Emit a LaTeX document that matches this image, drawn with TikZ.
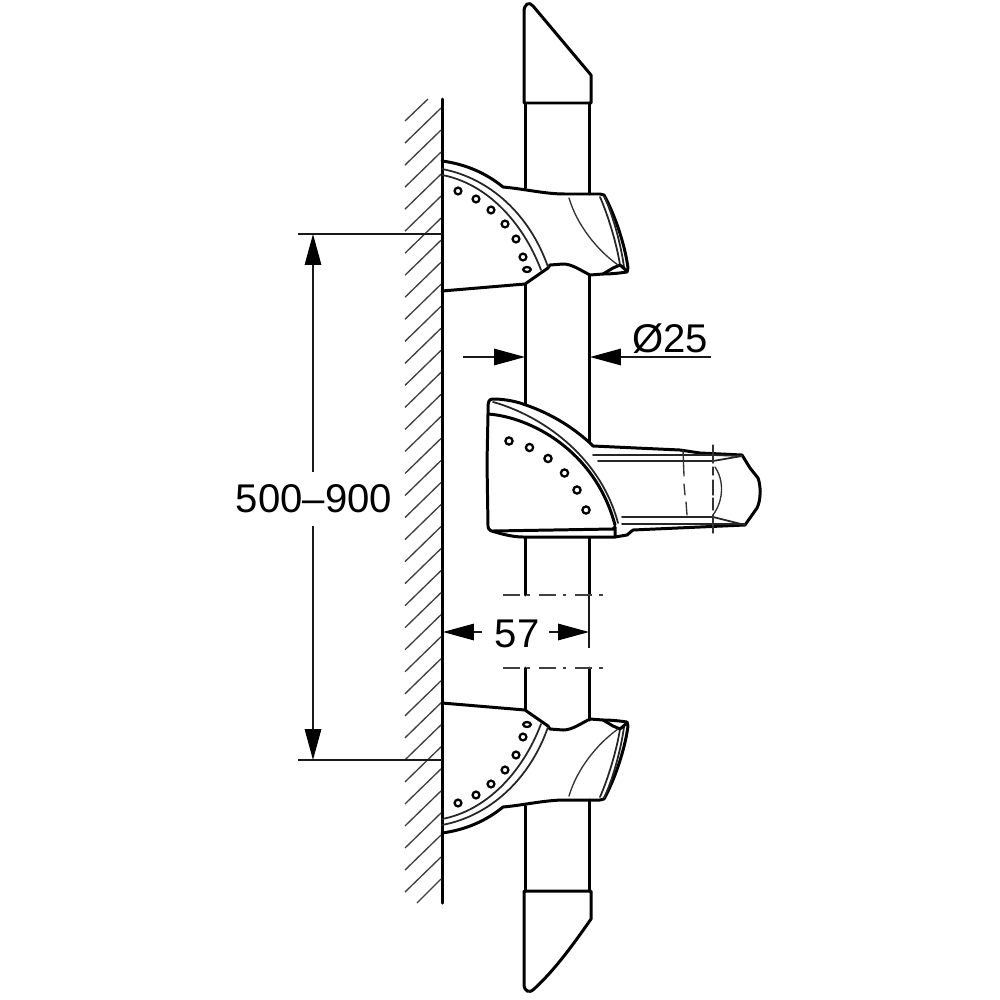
\documentclass[tikz,border=0pt]{standalone}
\usepackage{fontspec}
\setmainfont{Liberation Sans}
\usetikzlibrary{arrows.meta}
\tikzset{
  heavy/.style={line width=0.85pt,line join=round,line cap=round,black},
  medium/.style={line width=0.5pt,line join=round,line cap=round,black!85},
  fine/.style={line width=0.38pt,line cap=round,black!80},
  hatchline/.style={line width=0.38pt,black!75},
  dimline/.style={line width=0.38pt,black!90},
  dimtip/.style={dimline,-{Triangle[length=8.8pt,width=4.7pt,black]}},
  dimtext/.style={inner sep=0pt,font=\fontsize{11.4pt}{13pt}\selectfont},
  centreline/.style={line width=0.42pt,black!75,dash pattern=on 4.8pt off 2pt on 0.9pt off 2.6pt},
  hole/.style={line width=0.65pt,black}
}
\newcommand{\armbracket}{%
  \draw[heavy] (442,161) .. controls (465,164) and (486,173) .. (503,187)
    .. controls (525,189) and (545,194) .. (565,194) -- (600,194) -- (604,195)
    .. controls (615,215) and (625,245) .. (628,268) -- (627,272)
    .. controls (620,273) and (612,274) .. (603,274)
    -- (590,275) .. controls (580,270) and (572,264) .. (563,264)
    -- (550,265) -- (548,268) -- (525,284) -- (442,291);
  \draw[medium] (442,169) .. controls (490,178) and (530,215) .. (548,267);
  \draw[medium] (442,175) .. controls (485,183) and (522,220) .. (541,270);
  \draw[medium] (600,197) .. controls (608,215) and (617,245) .. (620,265);
  \draw[medium] (604,196) .. controls (613,215) and (621,245) .. (624,267);
  \draw[heavy] (603,274) -- (613,268) -- (620,265) -- (627,271);
  \draw[fine] (569,198) .. controls (577,225) and (597,250) .. (618,265);
  \foreach \hx/\hy in {458/191,476/199,491/210,505/224,516/239,523/257}
    \draw[hole] (\hx,\hy) circle[radius=3.4];
  \draw[hole] (527,269.5) ellipse[x radius=3.8,y radius=2.5];
}
\begin{document}
\begin{tikzpicture}[x=0.01cm,y=-0.01cm]
\useasboundingbox (0,0) rectangle (1000,1000);
\fill[white] (0,0) rectangle (1000,1000);

% wall
\draw[heavy] (442,99) -- (442,903);
\draw[hatchline] (405,121) -- (428,99);
\foreach \k in {1,...,35} {
  \pgfmathsetmacro{\ya}{121+22.03*\k}
  \draw[hatchline] (405,\ya) -- (441,\ya-35);
}
\draw[hatchline] (417,903) -- (441,879);

% end caps
\draw[heavy] (524,103) -- (524,12) .. controls (524,4) and (529,1) .. (533,6)
  -- (591,75) -- (591,103) -- cycle;
\draw[heavy] (524,891) -- (524,984) .. controls (524,991) and (529,994) .. (534,989)
  .. controls (555,970) and (575,942) .. (591,919) -- (591,891) -- cycle;

% tube
\draw[heavy] (525,103) -- (525,188);
\draw[heavy] (589,103) -- (589,194);
\draw[heavy] (525,284) -- (525,404);
\draw[heavy] (589,275) -- (589,442);
\draw[heavy] (525,538) -- (525,595);
\draw[heavy] (589,538) -- (589,595);
\draw[dimline] (589,595) -- (589,648);
\draw[heavy] (525,668) -- (525,710);
\draw[heavy] (589,668) -- (589,720);
\draw[heavy] (525,806) -- (525,891);
\draw[heavy] (589,800) -- (589,891);

% centre lines
\draw[centreline] (503,595) -- (606,595);
\draw[centreline] (503,668) -- (606,668);

% brackets
\armbracket
\begin{scope}[shift={(0,994)},yscale=-1]
  \armbracket
\end{scope}

% middle holder
\draw[heavy] (488,414) -- (487,463) -- (488,526) .. controls (488,530) and (491,531) .. (495,532)
  .. controls (505,535) and (515,537) .. (523,537) -- (615,537) -- (627,535) -- (633,530)
  -- (700,527) -- (745,525) -- (757,508) .. controls (761,500) and (761,486) .. (758,478)
  -- (750,468) -- (742,455) -- (700,453) -- (680,450) -- (593,446) -- (590,443)
  .. controls (570,425) and (548,412) .. (520,403) .. controls (510,400) and (500,399) .. (493,399)
  .. controls (489,399) and (488,402) .. (488,405) -- cycle;
\draw[heavy] (488,414) .. controls (530,417) and (595,450) .. (615,525);
\draw[medium] (493,402) .. controls (540,415) and (600,455) .. (618,523);
\draw[heavy] (493,531) -- (613,529) -- (615,527) -- (615,537);
\draw[medium] (593,455) -- (713,455) -- (742,456);
\draw[medium] (598,461) -- (713,461) -- (742,456);
\draw[medium] (622,517) -- (713,517) -- (745,525);
\draw[medium] (622,524) -- (745,524);
\draw[fine] (683,450) -- (684,476);
\draw[fine] (684,484) -- (685,495);
\draw[fine] (686,502) -- (687,515);
\draw[fine] (713,445) -- (713,463);
\draw[fine] (713,467) -- (713,475);
\draw[fine] (713,480) -- (713,495);
\draw[fine] (713,498) -- (713,510);
\draw[fine] (713,515) -- (713,533);
\draw[fine] (715,467) .. controls (724,480) and (724,500) .. (713,515);
\foreach \hx/\hy in {509/441,529.5/447.5,548/458.5,564.5/473,577/490,586/510}
  \draw[hole] (\hx,\hy) circle[radius=3.6];

% dimension 500-900
\draw[dimline] (298,234) -- (442,234);
\draw[dimline] (298,760) -- (442,760);
\draw[dimtip] (313,472) -- (313,234);
\draw[dimtip] (313,526) -- (313,760);
\node[dimtext] (lengthlabel) at (314,499) {500–900};

% dimension 25
\draw[dimtip] (463,357) -- (525,357);
\draw[dimtip] (711,357) -- (590,357);
\node[dimtext] (diameterlabel) at (670,339) {Ø25};

% dimension 57
\draw[dimtip] (482,632) -- (443,632);
\draw[dimtip] (549,632) -- (589,632);
\node[dimtext] (depthlabel) at (517,634) {57};
\end{tikzpicture}
\end{document}
